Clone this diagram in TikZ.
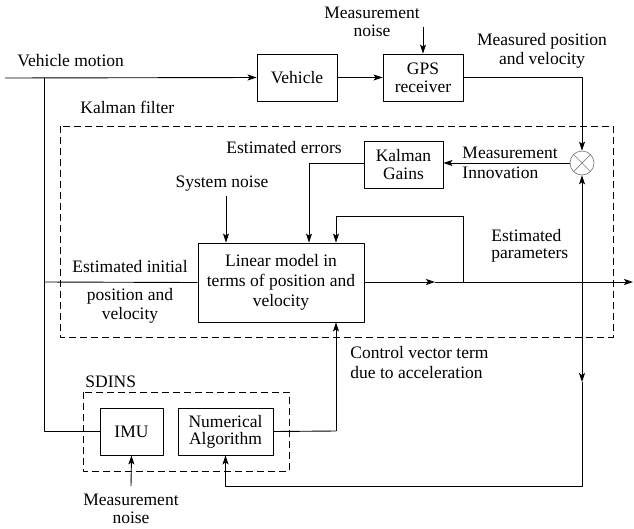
\documentclass[tikz,border=0pt]{standalone}
\usepackage{fontspec}
\setmainfont{Liberation Serif}
\usetikzlibrary{arrows.meta}
\tikzset{
	khoi/.style={draw, line width=0.9pt, align=center, inner sep=0pt},
	nhan/.style={align=center, inner sep=0pt},
	khung/.style={draw, line width=0.8pt, dash pattern=on 7pt off 4pt}
}
\begin{document}
\begin{tikzpicture}[x=1pt, y=-1pt, >={Stealth[length=9pt,width=6pt,inset=2pt]}, line width=0.9pt, line join=round,
	font=\rmfamily\fontsize{17.5}{18}\selectfont]
	\useasboundingbox (0,0) rectangle (634,528);
	%Các khối chính
	\node[khoi, minimum width=80pt, minimum height=47pt] (veh) at (297,77.5) {Vehicle};
	\node[khoi, minimum width=80pt, minimum height=47pt] (gps) at (423,77.5) {GPS\\receiver};
	\node[khoi, minimum width=79pt, minimum height=47pt] (kg) at (403.5,164.5) {Kalman\\Gains};
	\node[khoi, minimum width=166pt, minimum height=79pt, font=\rmfamily\fontsize{17.5}{20}\selectfont] (lm) at (281,282.5) {Linear model in\\terms of position and\\velocity};
	\node[khoi, minimum width=63pt, minimum height=47pt] (imu) at (131.5,431.5) {IMU};
	\node[khoi, minimum width=95pt, minimum height=47pt, font=\rmfamily\fontsize{17.5}{17}\selectfont] (na) at (225.5,431.5) {Numerical\\Algorithm};
	\node[draw=gray, circle, minimum size=24pt, inner sep=0pt, line width=0.7pt] (sum) at (582,163) {};
	\draw[gray, line width=0.7pt] (sum.north east)--(sum.south west) (sum.north west)--(sum.south east);
	%Các khung nét đứt
	\draw[khung] (60,126) rectangle (613,337);
	\draw[khung] (83,392) rectangle (289,471);
	%Các điểm phụ
	\coordinate (vm) at (5,78);
	\coordinate (p1) at (44,78);
	\coordinate (p2) at (44,282);
	\coordinate (kgl) at (309,163);
	\coordinate (mo) at (435,282);
	\coordinate (fb) at (463,282);
	\coordinate (fbt) at (463,216);
	\coordinate (cx) at (582,282);
	\coordinate (ra) at (633,282);
	\coordinate (md) at (582,382);
	\coordinate (bt) at (582,486);
	\coordinate (cv) at (336,431);
	\coordinate (sn) at (226,196);
	\coordinate (gn) at (423,27);
	\coordinate (mn) at (131,486);
	%Nhãn
	\node[nhan, anchor=base west] (t1) at (17,66) {Vehicle motion};
	\node[nhan, anchor=base west] (t2) at (80,113) {Kalman filter};
	\node[nhan, anchor=base west] (t3) at (226,153) {Estimated errors};
	\node[nhan] (t4) at (372,22) {Measurement\\noise};
	\node[nhan, font=\rmfamily\fontsize{17.5}{19}\selectfont] (t5) at (542,51) {Measured position\\and velocity};
	\node[nhan, anchor=west, align=left, font=\rmfamily\fontsize{17.5}{20}\selectfont] (t6) at (462,163) {Measurement\\Innovation};
	\node[nhan, anchor=base] (t7) at (222,187) {System noise};
	\node[nhan, anchor=base] (t8) at (130,272) {Estimated initial};
	\node[nhan, font=\rmfamily\fontsize{17.5}{19}\selectfont] (t9) at (130,306) {position and\\velocity};
	\node[nhan, anchor=west, align=left, font=\rmfamily\fontsize{17.5}{17}\selectfont] (t10) at (491,246) {Estimated\\parameters};
	\node[nhan, anchor=west, align=left, font=\rmfamily\fontsize{17.5}{20}\selectfont] (t11) at (350,363) {Control vector term\\due to acceleration};
	\node[nhan, anchor=base west] (t12) at (85,387) {SDINS};
	\node[nhan] (t13) at (131,509) {Measurement\\noise};
	%Các mũi tên
	\draw[->] (vm)--(veh.west);
	\draw (p1)--(p1|-imu.west)--(imu.west);
	\draw (p2)--(lm.west);
	\draw[->] (veh)--(gps);
	\draw[->] (gn)--(gps.north);
	\draw[->] (gps.east)-|(sum.north);
	\draw[->] (sum.west)--(sum.west-|kg.east);
	\draw[->] (kg.west|-kgl)--(kgl)--(kgl|-lm.north);
	\draw[->] (sn)--(sn|-lm.north);
	\draw[->] (lm.east|-mo)--(mo);
	\draw[->] (mo)--(ra);
	\draw[->] (fb)--(fbt)-|(cv|-lm.north);
	\draw[->] (cx)--(sum.south);
	\draw[->] (cx)--(md);
	\draw[->] (md)--(bt)-|(na.south);
	\draw (na.east)--(cv);
	\draw[->] (cv)--(cv|-lm.south);
	\draw[->] (mn)--(imu.south);
\end{tikzpicture}
\end{document}
